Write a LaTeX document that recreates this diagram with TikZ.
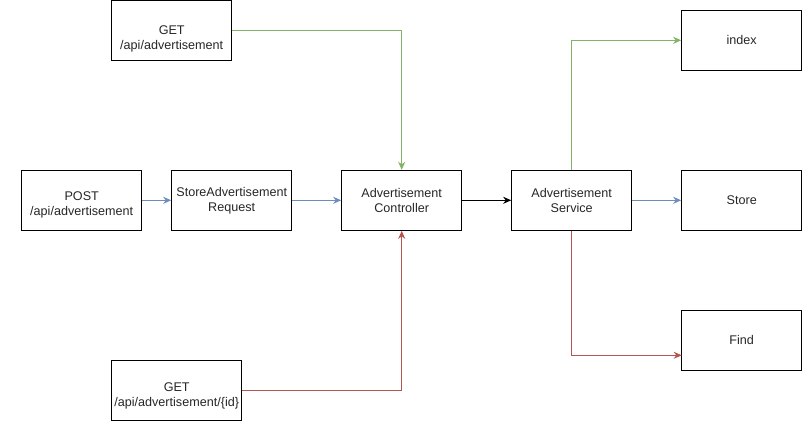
\documentclass[tikz,border=0pt]{standalone}
\usepackage{fontspec}
\setmainfont{Liberation Sans}
\usetikzlibrary{arrows.meta}
\definecolor{dgreen}{HTML}{82B366}
\definecolor{dblue}{HTML}{6C8EBF}
\definecolor{dred}{HTML}{B85450}
\begin{document}
\begin{tikzpicture}[x=1pt,y=-1pt,
  txt/.style={align=center,font=\fontsize{12.6}{15}\selectfont,text=black!85,inner sep=0pt},
  box/.style={draw=black,line width=1pt,minimum width=120pt,minimum height=60pt,
    inner sep=0pt,txt},
  conn/.style={line width=1pt,-{Stealth[length=8pt,width=7pt,inset=2.5pt]}}]
\useasboundingbox (0,0) rectangle (802,421);
\node[box,label={[txt,yshift=-9pt]center:GET\\/api/advertisement}] (gettop) at (171.7,30) {};
\node[box,label={[txt,yshift=-5pt]center:POST\\/api/advertisement}] (post) at (81.7,200.3) {};
\node[box] (req) at (231.7,200.3) {StoreAdvertisement\\Request};
\node[box] (ctrl) at (401.7,200.3) {Advertisement\\Controller};
\node[box,minimum width=130pt,label={[txt,yshift=-6pt]center:GET\\/api/advertisement/\{id\}}] (getbot) at (176.7,390.3) {};
\node[box] (svc) at (571.7,200.3) {Advertisement\\Service};
\node[box] (index) at (741.7,40.3) {index};
\node[box] (store) at (741.7,200.3) {Store};
\node[box] (find) at (741.7,340.3) {Find};
\coordinate (findin) at (681.7,355.3);
\draw[conn,dgreen] (gettop.east) -| (ctrl.north);
\draw[conn,dblue] (post) -- (req);
\draw[conn,dblue] (req) -- (ctrl);
\draw[conn,dred] (getbot.east) -| (ctrl.south);
\draw[conn,black] (ctrl) -- (svc);
\draw[conn,dgreen] (svc.north) |- (index.west);
\draw[conn,dblue] (svc) -- (store);
\draw[conn,dred] (svc.south) |- (findin);
\end{tikzpicture}
\end{document}
